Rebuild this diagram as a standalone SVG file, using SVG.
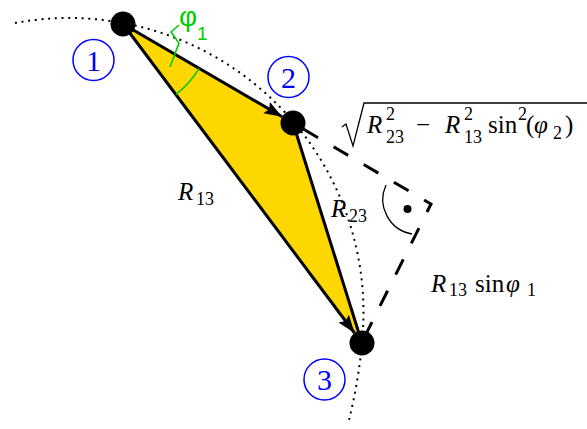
<svg xmlns="http://www.w3.org/2000/svg" width="587" height="429" viewBox="0 0 587 429">
<style>
.edge{stroke:#000;stroke-width:3;fill:none}
.dash{stroke:#000;stroke-width:3;fill:none;stroke-dasharray:17 18;stroke-dashoffset:23}
.dot{stroke:#000;stroke-width:2;fill:none;stroke-dasharray:2 4.7}
.node{fill:#000}
.num{fill:none;stroke:#0000ff;stroke-width:1.5}
.g{stroke:#00cc00;stroke-width:1.6;fill:none}
</style>
<defs>
<marker id="arr" markerUnits="userSpaceOnUse" markerWidth="20" markerHeight="16" viewBox="0 -8 20 16" refX="18" refY="0" orient="auto">
<path d="M0,-6.5 L18,0 L0,6.5 L3,0 z" fill="#000"/>
</marker>
</defs>
<rect width="587" height="429" fill="#fff"/>
<polygon points="123,24 293,123 362,343" fill="#ffd700"/>
<path class="dot" d="M15,23 A294.5,294.5 0 0 1 363.4,305 C364.3,340 358,385 348,424"/>
<g id="connectors">
<path class="edge" d="M123,24 L282.2,116.7" marker-end="url(#arr)"/>
<path class="edge" d="M123,24 L354.5,333" marker-end="url(#arr)"/>
<path class="edge" d="M293,123 L362,343"/>
<path class="dash" d="M293,123 L431,204 L362,342"/>
</g>
<g id="angle-phi1">
<path class="g" d="M199,68.3 A88,88 0 0 1 175.8,94.4"/>
<polyline class="g" points="170,67 179,43 171,32 179,25"/>
<text x="179" y="26" font-family="Liberation Sans, sans-serif" font-size="28" fill="#00cc00">φ</text>
<text x="197" y="40" font-family="Liberation Sans, sans-serif" font-size="19" fill="#00cc00">1</text>
</g>
<g id="right-angle">
<path d="M386,185 A35,35 0 0 0 412,234" fill="none" stroke="#000" stroke-width="1.3"/>
<circle cx="407.5" cy="209" r="4" fill="#000"/>
</g>
<g id="node1">
<circle class="node" cx="123" cy="24" r="12.5"/>
<circle class="num" cx="93.5" cy="60" r="20.5"/>
<text font-family="Liberation Serif, DejaVu Serif, serif" font-size="30" fill="#0000ff" text-anchor="middle" x="93.5" y="70.5">1</text>
</g>
<g id="node2">
<circle class="node" cx="293" cy="123" r="12.5"/>
<circle class="num" cx="288.5" cy="77" r="20.5"/>
<text font-family="Liberation Serif, DejaVu Serif, serif" font-size="30" fill="#0000ff" text-anchor="middle" x="288.5" y="87.5">2</text>
</g>
<g id="node3">
<circle class="node" cx="362" cy="343" r="12.5"/>
<circle class="num" cx="324.5" cy="379.5" r="20.5"/>
<text font-family="Liberation Serif, DejaVu Serif, serif" font-size="30" fill="#0000ff" text-anchor="middle" x="324.5" y="389.5">3</text>
</g>
<g id="labels">
<text font-family="Liberation Serif, DejaVu Serif, serif" font-size="25" font-style="italic" x="178" y="200">R</text>
<text font-family="Liberation Serif, DejaVu Serif, serif" font-size="18" x="196" y="205">13</text>
<text font-family="Liberation Serif, DejaVu Serif, serif" font-size="25" font-style="italic" x="331" y="217">R</text>
<text font-family="Liberation Serif, DejaVu Serif, serif" font-size="18" x="349" y="222">23</text>
<text font-family="Liberation Serif, DejaVu Serif, serif" font-size="25" font-style="italic" x="431" y="291.5">R</text>
<text font-family="Liberation Serif, DejaVu Serif, serif" font-size="18" x="449" y="296">13</text>
<text font-family="Liberation Serif, DejaVu Serif, serif" font-size="25" x="475" y="291.5">sin</text>
<text font-family="Liberation Serif, DejaVu Serif, serif" font-size="25" font-style="italic" x="506" y="291.5">φ</text>
<text font-family="Liberation Serif, DejaVu Serif, serif" font-size="18" x="527" y="296">1</text>
<path d="M342,127 L346,124 L353,146 L364,103 L587,103" fill="none" stroke="#000" stroke-width="1.3"/>
<text font-family="Liberation Serif, DejaVu Serif, serif" font-size="25" font-style="italic" x="367" y="133">R</text>
<text font-family="Liberation Serif, DejaVu Serif, serif" font-size="18" x="386" y="120">2</text>
<text font-family="Liberation Serif, DejaVu Serif, serif" font-size="18" x="386" y="143">23</text>
<text font-family="Liberation Serif, DejaVu Serif, serif" font-size="25" x="416" y="133">−</text>
<text font-family="Liberation Serif, DejaVu Serif, serif" font-size="25" font-style="italic" x="445" y="133">R</text>
<text font-family="Liberation Serif, DejaVu Serif, serif" font-size="18" x="464" y="120">2</text>
<text font-family="Liberation Serif, DejaVu Serif, serif" font-size="18" x="464" y="143">13</text>
<text font-family="Liberation Serif, DejaVu Serif, serif" font-size="25" x="488" y="133">sin</text>
<text font-family="Liberation Serif, DejaVu Serif, serif" font-size="18" x="518" y="120">2</text>
<text font-family="Liberation Serif, DejaVu Serif, serif" font-size="25" x="526" y="133">(</text>
<text font-family="Liberation Serif, DejaVu Serif, serif" font-size="25" font-style="italic" x="534" y="133">φ</text>
<text font-family="Liberation Serif, DejaVu Serif, serif" font-size="18" x="553" y="139">2</text>
<text font-family="Liberation Serif, DejaVu Serif, serif" font-size="25" x="565" y="133">)</text>
</g>
</svg>
